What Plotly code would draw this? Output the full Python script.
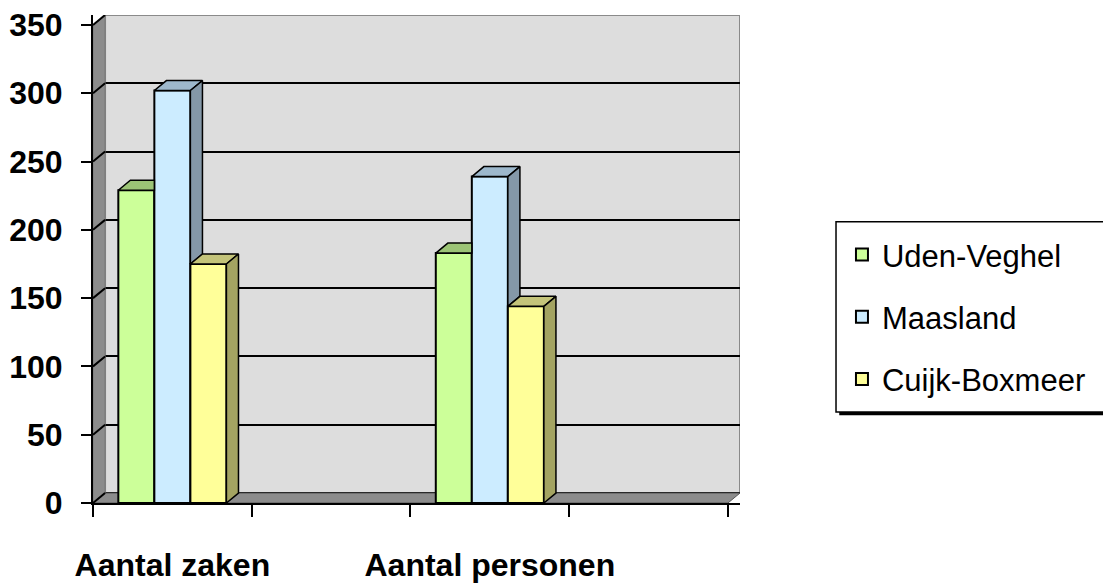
import plotly.graph_objects as go

# ---------------- data ----------------
categories = ["Aantal zaken", "", "Aantal personen", ""]
series_names = ["Uden-Veghel", "Maasland", "Cuijk-Boxmeer"]
uden_veghel = [229, None, 183, None]
maasland = [302, None, 239, None]
cuijk_boxmeer = [175, None, 144, None]
y_ticks = [0, 50, 100, 150, 200, 250, 300, 350]

# ---------------- style ----------------
front_colors = ["#CCFF99", "#CCECFF", "#FFFF99"]
top_colors = ["#9CC476", "#9DB8CC", "#C4C47A"]
side_colors = ["#7E9F5F", "#8498A8", "#A4A462"]
FONT = "Liberation Sans, Arial, sans-serif"
DX = 0.076   # 3D depth in x units
DY = 7.3     # 3D depth in y units
W = 0.227    # bar width (category units)
YMAX = 350

series_vals = [uden_veghel, maasland, cuijk_boxmeer]
xs = list(range(len(categories)))
n_s = len(series_vals)

fig = go.Figure()

# front faces (bars)
for s, (name, vals) in enumerate(zip(series_names, series_vals)):
    fig.add_trace(go.Bar(
        x=xs, y=vals, name=name,
        width=W, offset=(s - n_s / 2) * W,
        marker=dict(color=front_colors[s], line=dict(color="black", width=2)),
        legendgroup=name, hoverinfo="skip",
    ))

# top and side faces derived from the values
for s, vals in enumerate(series_vals):
    for c, v in enumerate(vals):
        if v is None:
            continue
        x0 = c + (s - n_s / 2) * W
        x1 = x0 + W
        nxt = series_vals[s + 1][c] if s + 1 < n_s else None
        if nxt is not None and nxt >= v:
            top = [(x0, v), (x0 + DX, v + DY), (x1, v + DY), (x1, v)]
            side = None
        else:
            base = nxt if nxt is not None else 0
            top = [(x0, v), (x0 + DX, v + DY), (x1 + DX, v + DY), (x1, v)]
            side = [(x1, base), (x1 + DX, base + DY), (x1 + DX, v + DY), (x1, v)]
        for poly, col in ((top, top_colors[s]), (side, side_colors[s])):
            if poly is None:
                continue
            px = [p[0] for p in poly] + [poly[0][0]]
            py = [p[1] for p in poly] + [poly[0][1]]
            fig.add_trace(go.Scatter(
                x=px, y=py, mode="lines", fill="toself", fillcolor=col,
                line=dict(color="black", width=1.5), showlegend=False,
                hoverinfo="skip",
            ))

# slanted grid lines on the left wall (back-wall coordinates on y2)
lx, ly = [], []
for t in y_ticks:
    lx += [-0.5, -0.5 + DX, None]
    ly += [t - DY, t, None]
fig.add_trace(go.Scatter(x=lx, y=ly, yaxis="y2", mode="lines",
                         line=dict(color="black", width=2),
                         showlegend=False, hoverinfo="skip"))

# legend box (paper coordinates) with a drop shadow
box_x0, box_x1, box_y0, box_y1 = 1.1484, 1.62, 0.1867, 0.5765

xl, xr = -0.5, len(categories) - 0.5
fig.update_layout(
    width=1103, height=575,
    margin=dict(l=85, r=371, t=7, b=80, pad=0, autoexpand=False),
    paper_bgcolor="white", plot_bgcolor="white",
    barmode="overlay",
    showlegend=True,
    legend=dict(
        x=1.1576, y=0.564, xanchor="left", yanchor="top",
        bgcolor="rgba(0,0,0,0)", borderwidth=0,
        font=dict(family=FONT, size=31, color="black"),
        tracegroupgap=19,
    ),
    xaxis=dict(
        range=[xl, xr + DX], tickmode="array", tickvals=xs, ticktext=categories,
        ticks="", ticklabelstandoff=33, automargin=False,
        ticklabeloverflow="allow",
        tickfont=dict(family=FONT, size=32, color="black", weight="bold"),
        showline=True, linecolor="black", linewidth=2,
        showgrid=False, zeroline=False,
        minor=dict(tickmode="array",
                   tickvals=[i - 0.5 for i in range(len(categories) + 1)],
                   ticks="outside", ticklen=12, tickwidth=2, tickcolor="black",
                   showgrid=False),
    ),
    yaxis=dict(
        range=[0, YMAX + DY], tickmode="array", tickvals=y_ticks,
        ticks="outside", ticklen=10, tickwidth=2, tickcolor="black",
        ticklabelstandoff=12, automargin=False,
        ticklabeloverflow="allow",
        tickfont=dict(family=FONT, size=32, color="black", weight="bold"),
        showline=True, linecolor="black", linewidth=2,
        showgrid=False, zeroline=False,
    ),
    yaxis2=dict(
        overlaying="y", side="right", range=[-DY, YMAX],
        tickmode="array", tickvals=y_ticks, showticklabels=False, ticks="",
        showgrid=True, gridcolor="black", gridwidth=2, automargin=False,
        zeroline=False, showline=False,
    ),
    shapes=[
        dict(type="rect", xref="x", yref="y", x0=xl + DX, x1=xr + DX,
             y0=DY, y1=YMAX + DY, fillcolor="#DDDDDD",
             line=dict(color="#8A8A8A", width=2), layer="below"),
        dict(type="path", xref="x", yref="y",
             path=f"M {xl},0 L {xl + DX},{DY} L {xl + DX},{YMAX + DY} L {xl},{YMAX} Z",
             fillcolor="#8C8C8C", line=dict(color="#777777", width=1),
             layer="between"),
        dict(type="path", xref="x", yref="y",
             path=f"M {xl},0 L {xl + DX},{DY} L {xr + DX},{DY} L {xr},0 Z",
             fillcolor="#8C8C8C", line=dict(color="#555555", width=1),
             layer="between"),
        # legend shadow + box
        dict(type="rect", xref="paper", yref="paper",
             x0=box_x0 + 0.005, x1=box_x1 + 0.005, y0=box_y0 - 0.007, y1=box_y1 - 0.007,
             fillcolor="black", line=dict(width=0), layer="above"),
        dict(type="rect", xref="paper", yref="paper",
             x0=box_x0, x1=box_x1, y0=box_y0, y1=box_y1,
             fillcolor="white", line=dict(color="black", width=1.5), layer="above"),
    ],
)

fig.write_html("out.html")
